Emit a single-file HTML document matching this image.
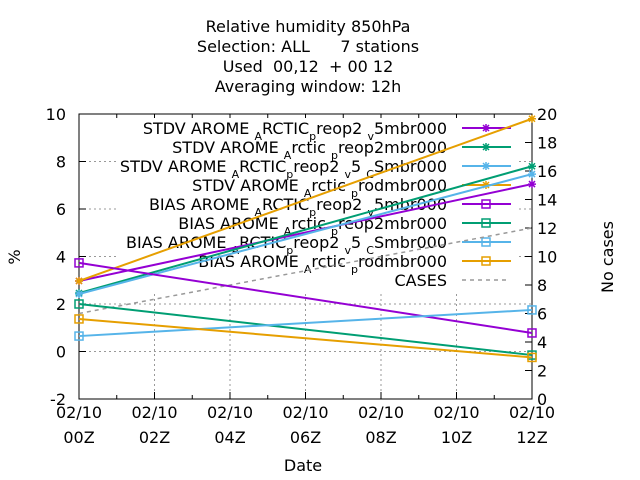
<!DOCTYPE html>
<html><head><meta charset="utf-8"><style>
body{margin:0;background:#fff}
svg{display:block;font-family:"DejaVu Sans","Liberation Sans",sans-serif}
</style></head><body>
<svg id="chart" width="640" height="480" viewBox="0 0 640 480" xmlns="http://www.w3.org/2000/svg">
<rect width="640" height="480" fill="#fff"/>
<g font-size="16" text-anchor="middle" fill="#000">
<text x="308" y="32">Relative humidity 850hPa</text>
<text x="308" y="52" xml:space="preserve">Selection: ALL      7 stations</text>
<text x="308" y="72" xml:space="preserve">Used  00,12  + 00 12</text>
<text x="308" y="92">Averaging window: 12h</text>
</g>
<g id="grid"></g>
<g id="axes"></g>
<g id="legend"></g>
<g id="series"></g>
<text x="20" y="257" font-size="16" text-anchor="middle" transform="rotate(-90 20 257)">%</text>
<text x="613" y="257" font-size="16" text-anchor="middle" transform="rotate(-90 613 257)">No cases</text>
<text x="303" y="471" font-size="16" text-anchor="middle">Date</text>
</svg>
<script>
const hours = [0, 12];
const stdv1 = [2.97, 7.05];
const stdv2 = [2.46, 7.8];
const stdv3 = [2.42, 7.47];
const stdv4 = [2.97, 9.8];
const bias1 = [3.73, 0.78];
const bias2 = [2.0, -0.15];
const bias3 = [0.65, 1.75];
const bias4 = [1.37, -0.25];
const cases = [6.0, 12.0];
const yTicks = [-2, 0, 2, 4, 6, 8, 10];
const y2Ticks = [0, 2, 4, 6, 8, 10, 12, 14, 16, 18, 20];
const xTicks = [0, 2, 4, 6, 8, 10, 12];
const xTickLabels = ["00Z", "02Z", "04Z", "06Z", "08Z", "10Z", "12Z"];
const seriesNames = [
 ["STDV AROME ","A","RCTIC","p","reop2 ","v","5mbr000"],
 ["STDV AROME ","A","rctic ","p","reop2mbr000"],
 ["STDV AROME ","A","RCTIC","p","reop2 ","v","5 ","C","Smbr000"],
 ["STDV AROME ","A","rctic ","p","rodmbr000"],
 ["BIAS AROME ","A","RCTIC","p","reop2 ","v","5mbr000"],
 ["BIAS AROME ","A","rctic ","p","reop2mbr000"],
 ["BIAS AROME ","A","RCTIC","p","reop2 ","v","5 ","C","Smbr000"],
 ["BIAS AROME ","A","rctic ","p","rodmbr000"],
 ["CASES"]
];
const L=79,R=532,T=114,B=399;
const X=h=>L+(h-0)/12*(R-L);
const Y=v=>T+(10-v)/12*(B-T);
const Y2=c=>B-c/20*(B-T);
const NS="http://www.w3.org/2000/svg";
function mk(tag,attrs,parent){const e=document.createElementNS(NS,tag);for(const k in attrs)e.setAttribute(k,attrs[k]);parent.appendChild(e);return e;}
const grid=document.getElementById('grid'),axes=document.getElementById('axes'),leg=document.getElementById('legend'),ser=document.getElementById('series');
xTicks.forEach((h,i)=>{
 if(i>0&&i<xTicks.length-1){const g=mk('line',{x1:X(h),x2:X(h),y1:T,y2:B,stroke:'#999','stroke-dasharray':'2,3','stroke-width':1},grid);
 }
 const t1=mk('text',{x:X(h),y:418,'font-size':16,'text-anchor':'middle'},axes);t1.textContent='02/10';
 
 const t2=mk('text',{x:X(h),y:443,'font-size':16,'text-anchor':'middle'},axes);t2.textContent=xTickLabels[i];
 
 mk('line',{x1:X(h),x2:X(h),y1:B,y2:B-7,stroke:'#000'},axes);mk('line',{x1:X(h),x2:X(h),y1:T,y2:T+7,stroke:'#000'},axes);
});
for(let h=1;h<12;h+=2){mk('line',{x1:X(h),x2:X(h),y1:B,y2:B-4,stroke:'#000'},axes);mk('line',{x1:X(h),x2:X(h),y1:T,y2:T+4,stroke:'#000'},axes);}
yTicks.forEach((v,i)=>{
 if(i>0&&i<yTicks.length-1){const g=mk('line',{x1:L,x2:R,y1:Y(v),y2:Y(v),stroke:'#999','stroke-dasharray':'2,3'},grid);
 }
 mk('line',{x1:L,x2:L+7,y1:Y(v),y2:Y(v),stroke:'#000'},axes);
 const t=mk('text',{x:66,y:Y(v)+6,'font-size':16,'text-anchor':'end'},axes);t.textContent=v;
 
});
y2Ticks.forEach(c=>{
 mk('line',{x1:R,x2:R-7,y1:Y2(c),y2:Y2(c),stroke:'#000'},axes);
 const t=mk('text',{x:537,y:Y2(c)+6,'font-size':16},axes);t.textContent=c;
 
});
mk('rect',{x:L,y:T,width:R-L,height:B-T,fill:'none',stroke:'#000'},axes);
const colors=['#9400d3','#009e73','#56b4e9','#e69f00','#9400d3','#009e73','#56b4e9','#e69f00','#999'];
const data=[stdv1,stdv2,stdv3,stdv4,bias1,bias2,bias3,bias4];
mk('rect',{x:116,y:118,width:402,height:174,fill:'#fff'},leg);
seriesNames.forEach((parts,i)=>{
 const y=134+i*19;
 const t=mk('text',{x:447,y:y,'font-size':16,'text-anchor':'end','xml:space':'preserve'},leg);
 
 parts.forEach((p,j)=>{const s=mk('tspan',{},t);s.textContent=p;if(j%2===1){s.setAttribute('font-size','11');s.setAttribute('dy','6');}else if(j>0){s.setAttribute('dy','-6');}});
 if(i===8){mk('line',{x1:462,x2:508,y1:y-6,y2:y-6,stroke:colors[i],'stroke-width':1.5,'stroke-dasharray':'4,4'},leg);}
 else{mk('line',{x1:462,x2:511,y1:y-6,y2:y-6,stroke:colors[i],'stroke-width':2},leg);marker(486,y-6,i<4,colors[i],leg);}
});
function marker(x,y,star,c,p){
 if(star){mk('path',{d:`M${x-4},${y}H${x+4}M${x},${y-4}V${y+4}M${x-3},${y-3}L${x+3},${y+3}M${x-3},${y+3}L${x+3},${y-3}`,stroke:c,'stroke-width':1.5},p);}
 else mk('rect',{x:x-4,y:y-4,width:8,height:8,fill:'none',stroke:c,'stroke-width':1.5},p);
}
const names=['stdv-arctic-v5','stdv-arctic','stdv-arctic-v5-cs','stdv-arctic-prod','bias-arctic-v5','bias-arctic','bias-arctic-v5-cs','bias-arctic-prod'];
const cl=mk('polyline',{points:hours.map((h,k)=>X(h)+','+Y2(cases[k])).join(' '),fill:'none',stroke:'#999','stroke-width':1.5,'stroke-dasharray':'4,4'},ser);

data.forEach((arr,i)=>{
 const pl=mk('polyline',{points:hours.map((h,k)=>X(h)+','+Y(arr[k])).join(' '),fill:'none',stroke:colors[i],'stroke-width':2},ser);
 
 hours.forEach((h,k)=>marker(X(h),Y(arr[k]),i<4,colors[i],ser));
});
</script>
</body></html>
